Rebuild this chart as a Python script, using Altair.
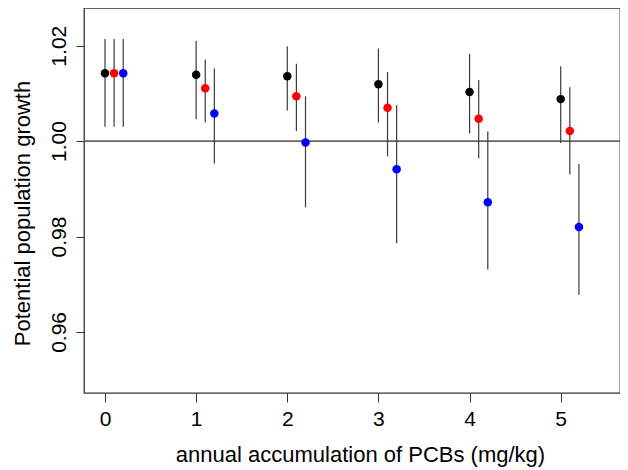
import altair as alt
import pandas as pd

# PCB accumulation levels (mg/kg)
pcb = [0, 1, 2, 3, 4, 5]

# three scenarios, drawn with a small horizontal offset
series = ["scenario 1", "scenario 2", "scenario 3"]
series_colors = ["#000000", "#ff0000", "#0000ff"]
offsets = [0.0, 0.1, 0.2]

black_mean = [1.0142, 1.0139, 1.0136, 1.0119, 1.0103, 1.0088]
black_lo = [1.0030, 1.0046, 1.0064, 1.0039, 1.0016, 0.9996]
black_hi = [1.0214, 1.0210, 1.0199, 1.0194, 1.0183, 1.0157]

red_mean = [1.0142, 1.0111, 1.0094, 1.0070, 1.0047, 1.0021]
red_lo = [1.0030, 1.0039, 1.0021, 0.9968, 0.9964, 0.9930]
red_hi = [1.0214, 1.0171, 1.0162, 1.0145, 1.0128, 1.0113]

blue_mean = [1.0142, 1.0058, 0.9997, 0.9941, 0.9872, 0.9820]
blue_lo = [1.0030, 0.9953, 0.9861, 0.9786, 0.9731, 0.9678]
blue_hi = [1.0214, 1.0152, 1.0094, 1.0075, 1.0020, 0.9952]

y_ticks = [0.96, 0.98, 1.00, 1.02]
reference_line = [1.0]

means = [black_mean, red_mean, blue_mean]
lows = [black_lo, red_lo, blue_lo]
highs = [black_hi, red_hi, blue_hi]

rows = []
for s, off, m, lo, hi in zip(series, offsets, means, lows, highs):
    for d, mm, l, h in zip(pcb, m, lo, hi):
        rows.append({"series": s, "pcb": d, "offset": off, "mean": mm, "lo": l, "hi": h})
df = pd.DataFrame(rows)

FONT = "Liberation Sans"

xscale = alt.Scale(domain=[-0.2304, 5.6506], nice=False, zero=False)
yscale = alt.Scale(domain=[0.9472, 1.0279], nice=False, zero=False)

xaxis = alt.Axis(
    values=pcb, format="d", title="annual accumulation of PCBs (mg/kg)",
    grid=False, domain=False, tickSize=9, tickColor="#333", tickWidth=1,
    labelPadding=23.5, labelBaseline="alphabetic", labelFlush=False,
    labelFontSize=21, labelFont=FONT, labelColor="#000",
    titleFontSize=22, titleFont=FONT, titleColor="#000", titleFontWeight="normal",
    titleBaseline="alphabetic", titleAlign="center", titleX=276, titleY=68,
)
yaxis = alt.Axis(
    values=y_ticks, format=".2f", title="Potential population growth",
    grid=False, domain=False, tickSize=8, tickColor="#333", tickWidth=1,
    labelAngle=270, labelAlign="center", labelBaseline="alphabetic",
    labelPadding=11, labelFlush=False, labelOverlap=False,
    labelFontSize=21, labelFont=FONT, labelColor="#000",
    titleFontSize=22, titleFont=FONT, titleColor="#000", titleFontWeight="normal",
    titleAngle=270, titleBaseline="alphabetic", titleAlign="center",
    titleX=-55, titleY=205,
)

base = alt.Chart(df).transform_calculate(xpos="datum.pcb + datum.offset")

hline = alt.Chart(pd.DataFrame({"y": reference_line})).mark_rule(
    color="#666666", strokeWidth=1.6
).encode(y=alt.Y("y:Q", scale=yscale, axis=yaxis))

bars = base.mark_rule(color="#3a3a3a", strokeWidth=1.2).encode(
    x=alt.X("xpos:Q", scale=xscale, axis=xaxis),
    y=alt.Y("lo:Q", scale=yscale, axis=yaxis),
    y2="hi:Q",
)

points = base.mark_circle(size=72, opacity=1).encode(
    x=alt.X("xpos:Q", scale=xscale, axis=xaxis),
    y=alt.Y("mean:Q", scale=yscale, axis=yaxis),
    color=alt.Color("series:N", scale=alt.Scale(domain=series, range=series_colors), legend=None),
)

chart = (
    alt.layer(hline, bars, points)
    .properties(
        width=536, height=385,
        padding={"left": 76, "top": 0, "right": 0, "bottom": 77},
        autosize=alt.AutoSizeParams(type="none"),
        background="white",
    )
    .configure_view(stroke="#333333", strokeWidth=1.3)
)

chart.save("out.html", embed_options={"renderer": "svg", "actions": False})
